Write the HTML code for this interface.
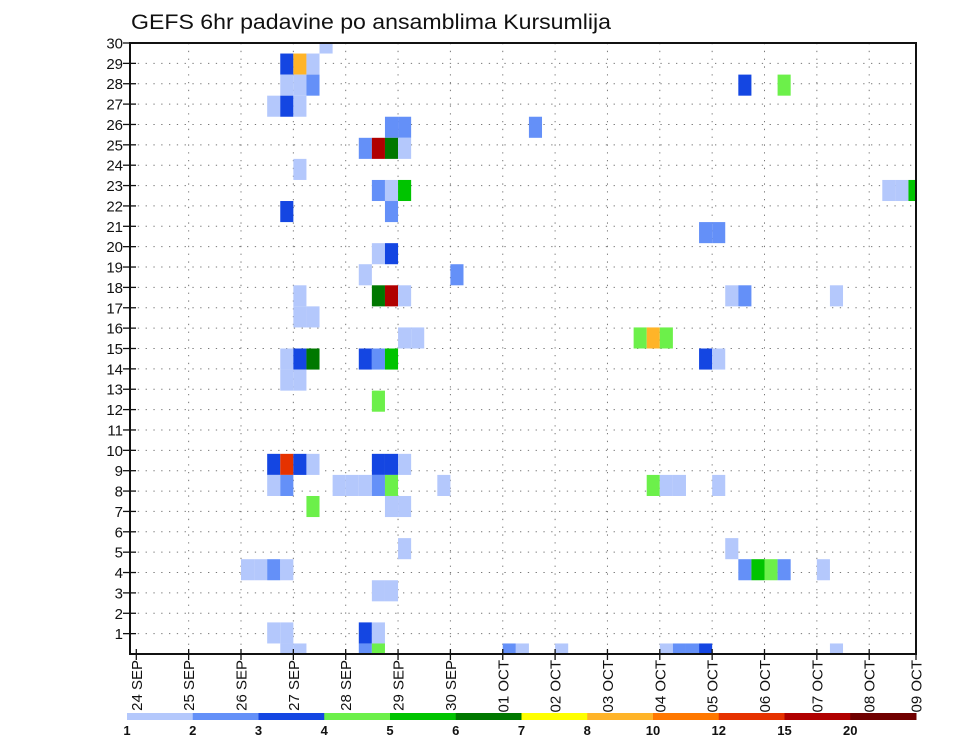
<!DOCTYPE html>
<html><head><meta charset="utf-8">
<style>
html,body{margin:0;padding:0;background:#fff;}
svg{display:block;font-family:"Liberation Sans",sans-serif;}
</style></head>
<body>
<svg id="chart" width="960" height="742" viewBox="0 0 960 742" xmlns="http://www.w3.org/2000/svg">
<defs><clipPath id="plotclip"><rect x="130" y="43" width="786" height="611"/></clipPath></defs>
<text x="131" y="29" font-size="21" textLength="480" lengthAdjust="spacingAndGlyphs" fill="#111">GEFS 6hr padavine po ansamblima Kursumlija</text>
<g id="grid"></g>
<g id="cells" clip-path="url(#plotclip)"></g>
<rect x="130" y="43" width="786" height="611" fill="none" stroke="#111" stroke-width="2"/>
<g id="yaxis"></g>
<g id="xaxis"></g>
<g id="legend"></g>
</svg>
<script>
// ---- data ----
const dayLabels = ["24 SEP","25 SEP","26 SEP","27 SEP","28 SEP","29 SEP","30 SEP","01 OCT","02 OCT","03 OCT","04 OCT","05 OCT","06 OCT","07 OCT","08 OCT","09 OCT"];
const yTickLabels = [1,2,3,4,5,6,7,8,9,10,11,12,13,14,15,16,17,18,19,20,21,22,23,24,25,26,27,28,29,30];
const legendBounds = [1,2,3,4,5,6,7,8,10,12,15,20];
const legendColors = ["#b4c8fc","#6490f8","#1446e2","#6cf04a","#00c400","#007800","#ffff00","#ffb428","#ff7800","#e63200","#b00000","#700000"];
// 6-hour step index from 24 SEP 00Z
const timeIdx = [14, 11,12,13, 11,12,13,46,49, 10,11,12, 19,20,30, 17,18,19,20, 12, 18,19,20,57,58,59, 11,19, 43,44, 18,19, 17,24, 12,18,19,20,45,46,53, 12,13, 20,21,38,39,40, 11,12,13,17,18,19,43,44, 11,12, 18, 10,11,12,13,18,19,20, 10,11,15,16,17,18,19,23,39,40,41,44, 13,19,20, 20,45, 8,9,10,11,46,47,48,49,52, 18,19, 10,11,17,18, 11,12,17,18,28,29,32,40,41,42,43,53];
// ensemble member index
const memberIdx = [29, 28,28,28, 27,27,27,27,27, 26,26,26, 25,25,25, 24,24,24,24, 23, 22,22,22,22,22,22, 21,21, 20,20, 19,19, 18,18, 17,17,17,17,17,17,17, 16,16, 15,15,15,15,15, 14,14,14,14,14,14,14,14, 13,13, 12, 9,9,9,9,9,9,9, 8,8,8,8,8,8,8,8,8,8,8,8, 7,7,7, 5,5, 4,4,4,4,4,4,4,4,4, 3,3, 1,1,1,1, 0,0,0,0,0,0,0,0,0,0,0,0];
// precipitation (mm / 6h)
const precip = [1.5, 3.5,9,1.5, 1.5,1.5,2.5,3.5,4.5, 1.5,3.5,1.5, 2.5,2.5,2.5, 2.5,17,6.5,1.5, 1.5, 2.5,1.5,5.5,1.5,1.5,5.5, 3.5,2.5, 2.5,2.5, 1.5,3.5, 1.5,2.5, 1.5,6.5,17,1.5,1.5,2.5,1.5, 1.5,1.5, 1.5,1.5,4.5,9,4.5, 1.5,3.5,6.5,3.5,2.5,5.5,3.5,1.5, 1.5,1.5, 4.5, 3.5,13,3.5,1.5,3.5,3.5,1.5, 1.5,2.5,1.5,1.5,1.5,2.5,4.5,1.5,4.5,1.5,1.5,1.5, 4.5,1.5,1.5, 1.5,1.5, 1.5,1.5,2.5,1.5,2.5,5.5,4.5,2.5,1.5, 1.5,1.5, 1.5,1.5,3.5,1.5, 1.5,1.5,2.5,4.5,2.5,1.5,1.5,1.5,2.5,2.5,3.5,1.5];

// ---- axes ----
const PL=130, PR=916, PT=43, PB=654;
const dayX = d => 136.3 + 52.35*d;
const stepX = s => 136.3 + 13.0875*s;
const tickY = k => PB - (PB-PT)/30*k;
const cellH = (PB-PT)/29;
const memberY = j => PB - cellH*j;
function colorFor(v){let i=0;for(let b=0;b<legendBounds.length;b++){if(v>=legendBounds[b])i=b;}return legendColors[i];}
const NS="http://www.w3.org/2000/svg";
function mk(tag,attrs,parent){const e=document.createElementNS(NS,tag);for(const k in attrs)e.setAttribute(k,attrs[k]);parent.appendChild(e);return e;}

const grid=document.getElementById('grid');
for(let k=1;k<30;k++){
  const l=mk('line',{x1:PL,x2:PR,y1:tickY(k),y2:tickY(k),stroke:'#777','stroke-width':1,'stroke-dasharray':'1.3,6.5'},grid);
  
  
}
for(let d=1;d<dayLabels.length;d++){
  if(dayX(d)>=PR)continue;
  const l=mk('line',{x1:dayX(d),x2:dayX(d),y1:PT,y2:PB,stroke:'#777','stroke-width':1,'stroke-dasharray':'1.3,6.5'},grid);
  
  
}

const cells=document.getElementById('cells');
for(let i=0;i<precip.length;i++){
  const r=mk('rect',{x:stepX(timeIdx[i]),y:memberY(memberIdx[i])-cellH/2,width:13.09,height:cellH,fill:colorFor(precip[i])},cells);
  
  
}

const ya=document.getElementById('yaxis');
yTickLabels.forEach(k=>{
  const y=tickY(k);
  const t=mk('line',{x1:PL-7,x2:PL+6,y1:y,y2:y,stroke:'#111','stroke-width':1.3},ya);
  
  
  const tx=mk('text',{x:PL-7,y:y+5.5,'font-size':15,'text-anchor':'end',fill:'#111'},ya);
  tx.textContent=k;
  
  
});

const xa=document.getElementById('xaxis');
dayLabels.forEach((lab,d)=>{
  let x=Math.min(dayX(d),PR);
  const t=mk('line',{x1:x,x2:x,y1:PB-5,y2:PB+6,stroke:'#111','stroke-width':1.3},xa);
  
  
  const tx=mk('text',{x:0,y:0,'font-size':15,'text-anchor':'end',fill:'#111',transform:`translate(${x+5.5},${PB+6}) rotate(-90)`},xa);
  tx.textContent=lab;
  
  
});

const lg=document.getElementById('legend');
const LX=127, LW=(916-127)/legendColors.length;
legendColors.forEach((c,i)=>{
  const r=mk('rect',{x:LX+i*LW,y:713,width:LW+0.5,height:7,fill:c},lg);
  
  
  const tx=mk('text',{x:LX+i*LW,y:735,'font-size':13,'font-weight':'bold','text-anchor':'middle',fill:'#111'},lg);
  tx.textContent=legendBounds[i];
  
  
});
</script>
</body></html>
